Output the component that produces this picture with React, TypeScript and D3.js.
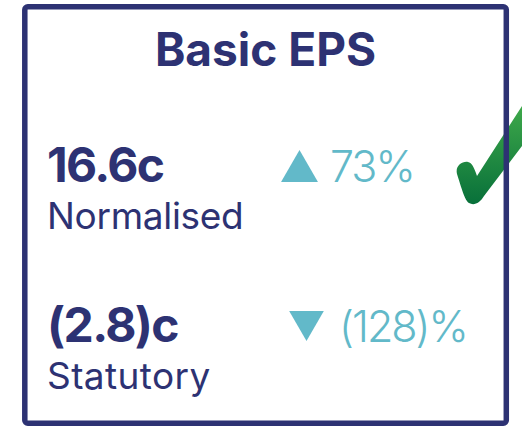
import React from "react";
import * as d3 from "d3";

const title = "Basic EPS";
const metrics = ["Normalised", "Statutory"];
const values = ["16.6c", "(2.8)c"];
const changes = ["73%", "(128)%"];
const directions = ["up", "down"];

const NAVY = "#2d3273";
const TEAL = "#62b9c9";
const FONT = "Inter, 'Noto Sans', sans-serif";

export default function App() {
  const W = 522, H = 427;
  const rowY = d3.scalePoint<string>().domain(metrics).range([182, 342]);
  const triX = d3.scaleOrdinal<string, number>().domain(metrics).range([299.5, 306.5]);
  const triSize = d3.scaleOrdinal<string, number>().domain(metrics).range([590, 520]);
  const changeX = d3.scaleOrdinal<string, number>().domain(metrics).range([330, 339]);

  const checkPath = "M457,174 C455,166 462,161 468,162 C472,163 474,167 477,176 L522,106 L522,146 L484,196 C480,203 474,206 469,203 C465,200 463,193 457,174 Z";

  return (
    <svg width={W} height={H} style={{ position: "absolute", left: 0, top: 0, display: "block" }}>
      <defs>
        <linearGradient id="chk" x1="0" y1="0" x2="0" y2="1">
          <stop offset="0" stopColor="#3ea84a" />
          <stop offset="1" stopColor="#08703a" />
        </linearGradient>
      </defs>
      <rect x={0} y={0} width={W} height={H} fill="#fff" />
      <path d={checkPath} fill="url(#chk)" />
      <rect x={24.8} y={6.8} width={481.5} height={416.5} rx={3} fill="none" stroke={NAVY} strokeWidth={5.5} />
      <text x={265.5} y={66} textAnchor="middle" fontFamily={FONT} fontWeight={700} fontSize={46} fill={NAVY}>{title}</text>
      {metrics.map((m, i) => {
        const y = rowY(m)!;
        const sym = d3.symbol().type(d3.symbolTriangle).size(triSize(m))();
        const cy = directions[i] === "up" ? y - 10.7 : y - 21;
        return (
          <g key={m}>
            <text x={47} y={y} fontFamily={FONT} fontWeight={700} fontSize={48} letterSpacing={-1.6} fill={NAVY}>{values[i]}</text>
            <text x={47} y={y + 47} fontFamily={FONT} fontWeight={400} fontSize={37} letterSpacing={i === 0 ? -0.3 : 0.4} fill={NAVY}>{m}</text>
            <path d={sym!} transform={`translate(${triX(m)},${cy}) rotate(${directions[i] === "up" ? 0 : 180})`} fill={TEAL} />
            <text x={changeX(m)} y={y} fontFamily={FONT} fontWeight={300} fontSize={43} letterSpacing={-2} fill={TEAL}>{changes[i]}</text>
          </g>
        );
      })}
    </svg>
  );
}
